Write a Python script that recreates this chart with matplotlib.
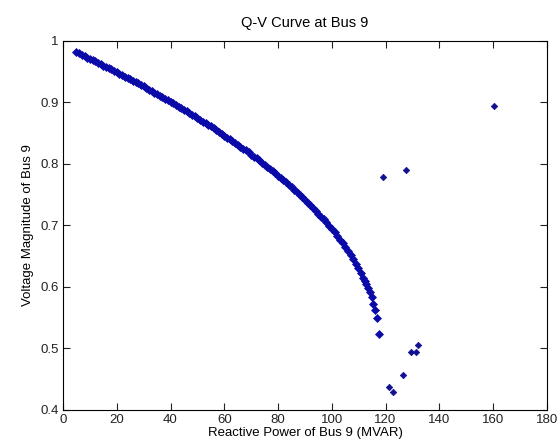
import matplotlib
matplotlib.use('Agg')
import matplotlib.pyplot as plt

# Q-V curve points (upper branch)
q_curve = [5, 6, 7, 8, 9, 10, 11, 12, 13, 14, 15, 16, 17, 18, 19, 20,
           21, 22, 23, 24, 25, 26, 27, 28, 29, 30, 31, 32, 33, 34, 35,
           36, 37, 38, 39, 40, 41, 42, 43, 44, 45, 46, 47, 48, 49, 50,
           51, 52, 53, 54, 55, 56, 57, 58, 59, 60, 61, 62, 63, 64, 65,
           66, 67, 68, 69, 70, 71, 72, 73, 74, 75, 76, 77, 78, 79, 80,
           81, 82, 83, 84, 85, 86, 87, 88, 89, 90, 91, 92, 93, 94, 95,
           96, 97, 98, 99, 100, 101, 102, 103, 104, 105, 106, 107, 108, 109,
           109.6, 110.8, 111.7, 112.3, 112.9, 113.5, 114.2, 114.8, 115.4,
           116.0, 116.7, 117.6]
v_curve = [0.982, 0.980, 0.978, 0.976, 0.973, 0.971, 0.969, 0.967, 0.965,
           0.963, 0.960, 0.958, 0.956, 0.954, 0.951, 0.949, 0.947, 0.945,
           0.942, 0.940, 0.938, 0.935, 0.933, 0.931, 0.928, 0.926, 0.923,
           0.921, 0.919, 0.916, 0.914, 0.911, 0.909, 0.906, 0.904, 0.901,
           0.899, 0.896, 0.893, 0.891, 0.888, 0.886, 0.883, 0.880, 0.878,
           0.875, 0.872, 0.869, 0.867, 0.864, 0.861, 0.858, 0.855, 0.852,
           0.849, 0.846, 0.843, 0.840, 0.837, 0.834, 0.831, 0.828, 0.825,
           0.822, 0.819, 0.815, 0.812, 0.809, 0.806, 0.802, 0.799, 0.795,
           0.792, 0.788, 0.785, 0.781, 0.777, 0.774, 0.770, 0.766, 0.762,
           0.758, 0.754, 0.750, 0.746, 0.742, 0.737, 0.733, 0.728, 0.724,
           0.719, 0.714, 0.710, 0.705, 0.699, 0.694, 0.689, 0.683, 0.677,
           0.671, 0.665, 0.659, 0.652, 0.645, 0.638,
           0.630, 0.622, 0.615, 0.610, 0.604, 0.598, 0.591, 0.583, 0.573,
           0.563, 0.549, 0.523]

# scattered points past the nose
q_other = [119.1, 127.6, 160.3, 121.2, 122.8, 126.6, 129.3, 131.2, 132.1]
v_other = [0.778, 0.790, 0.894, 0.437, 0.429, 0.457, 0.494, 0.494, 0.505]

plt.rcParams['font.family'] = ['Liberation Sans', 'DejaVu Sans']
plt.rcParams['font.size'] = 9.5

fig = plt.figure(figsize=(5.58, 4.48), dpi=100)
ax = fig.add_axes([0.113, 0.085, 0.867, 0.8235])

col = '#0a0aa8'
ax.plot(q_curve, v_curve, linestyle='none', marker='D', markersize=3.8,
        color=col, markeredgewidth=0.5)
ax.plot(q_other, v_other, linestyle='none', marker='D', markersize=3.3,
        color='#101090', markeredgewidth=0.5)

ax.set_xlim(0, 180)
ax.set_ylim(0.4, 1)
ax.set_xticks(range(0, 181, 20))
ax.set_yticks([0.4, 0.5, 0.6, 0.7, 0.8, 0.9, 1.0])
ax.set_yticklabels(['0.4', '0.5', '0.6', '0.7', '0.8', '0.9', '1'])
ax.tick_params(direction='in', top=True, right=True, length=5, width=0.8,
               pad=3, colors='#222222')
for s in ax.spines.values():
    s.set_linewidth(0.8)

ax.set_title('Q-V Curve at Bus 9', fontsize=10.5, pad=10)
ax.set_xlabel('Reactive Power of Bus 9 (MVAR)', labelpad=1)
ax.set_ylabel('Voltage Magnitude of Bus 9', labelpad=5)

fig.savefig('out.png', dpi=100)
